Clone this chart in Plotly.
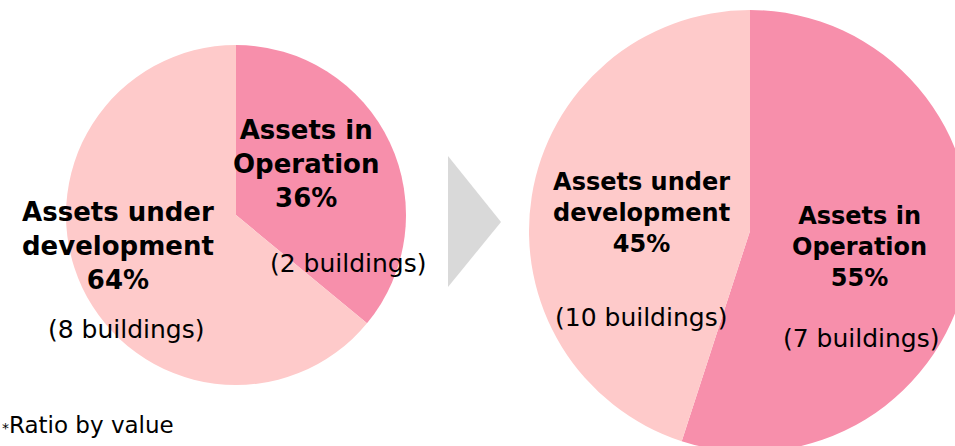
import plotly.graph_objects as go

# data
labels = ["Assets in Operation", "Assets under development"]
label_lines = ["Assets in<br>Operation", "Assets under<br>development"]
before_pct = [36, 64]
after_pct = [55, 45]
before_buildings = [2, 8]
after_buildings = [7, 10]
footnote = "Ratio by value"

colors = ["#F78FAB", "#FECACA"]

# canvas slightly larger than the window so the right pie runs off the edge
W, H = 975, 460


def dom_x(a, b):
    return [a / W, b / W]


def dom_y(top, bottom):
    return [1 - bottom / H, 1 - top / H]


fig = go.Figure()

fig.add_trace(go.Pie(labels=labels, values=before_pct, sort=False, direction="clockwise",
                     rotation=0, marker=dict(colors=colors, line=dict(width=0)),
                     textinfo="none", hoverinfo="label+percent",
                     domain=dict(x=dom_x(66, 406), y=dom_y(45, 385))))
fig.add_trace(go.Pie(labels=labels, values=after_pct, sort=False, direction="clockwise",
                     rotation=0, marker=dict(colors=colors, line=dict(width=0)),
                     textinfo="none", hoverinfo="label+percent",
                     domain=dict(x=dom_x(529, 971), y=dom_y(10, 452))))

# pixel-like helper axes for text and the arrow
fig.update_xaxes(range=[0, W], visible=False, domain=[0, 1])
fig.update_yaxes(range=[H, 0], visible=False, domain=[0, 1])
fig.add_trace(go.Scatter(x=[0], y=[0], mode="markers", marker=dict(opacity=0),
                         hoverinfo="skip", showlegend=False))

fig.add_shape(type="path", path="M 448 156 L 501 222 L 448 287 Z", xref="x", yref="y",
              fillcolor="#D9D9D9", line=dict(width=0), layer="below")

bold = dict(family="DejaVu Sans", color="black")


def name_note(x, y, i, pct, size):
    fig.add_annotation(x=x, y=y, xref="x", yref="y", showarrow=False,
                       text="<b>%s<br>%d%%</b>" % (label_lines[i], pct[i]),
                       font=dict(size=size, **bold), align="center")


def count_note(x, y, n, size):
    fig.add_annotation(x=x, y=y, xref="x", yref="y", showarrow=False,
                       text="(%d buildings)" % n,
                       font=dict(size=size, family="DejaVu Sans", color="black"))


# before
name_note(306, 164, 0, before_pct, 26)
name_note(118, 246, 1, before_pct, 26)
count_note(348, 263, before_buildings[0], 25)
count_note(126, 329, before_buildings[1], 25)

# after
name_note(859, 247, 0, after_pct, 24)
name_note(641, 213, 1, after_pct, 24)
count_note(861, 338, after_buildings[0], 25)
count_note(641, 317, after_buildings[1], 25)

fig.add_annotation(x=0, y=425, xref="x", yref="y", showarrow=False, xanchor="left",
                   xshift=0,
                   text="<span style='font-size:14px'>*</span>" + footnote,
                   font=dict(size=23, family="DejaVu Sans", color="black"))

fig.update_layout(width=W, height=H, margin=dict(l=0, r=0, t=0, b=0),
                  paper_bgcolor="white", plot_bgcolor="white", showlegend=False)

fig.write_html("out.html", config={"displayModeBar": False},
               post_script="document.body.style.margin='0';"
                           "document.body.style.overflow='hidden';"
                           "document.documentElement.style.overflow='hidden';")
